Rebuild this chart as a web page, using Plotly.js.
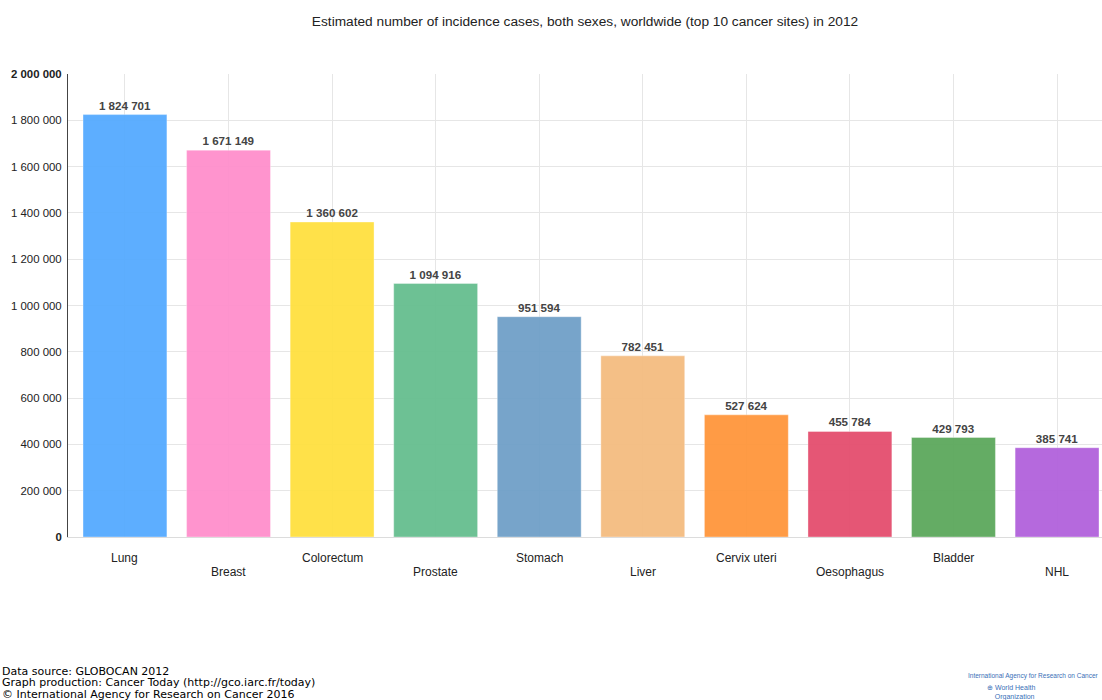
<!DOCTYPE html>
<html>
<head>
<meta charset="utf-8">
<script src="https://cdn.plot.ly/plotly-3.0.1.min.js"></script>
<style>html,body{margin:0;padding:0;background:#fff;}#chart{width:1102px;height:700px;}</style>
</head>
<body>
<div id="chart"></div>
<script>
const categories = ["Lung","Breast","Colorectum","Prostate","Stomach","Liver","Cervix uteri","Oesophagus","Bladder","NHL"];
const cases = [1824701,1671149,1360602,1094916,951594,782451,527624,455784,429793,385741];
const barColors = ["#55aaff","#ff8fcc","#ffe040","#66be8f","#70a0c8","#f4bc80","#ff963c","#e44e6e","#5ca85c","#b262dc"];
const yTickVals = [0,200000,400000,600000,800000,1000000,1200000,1400000,1600000,1800000,2000000];
const yTickText = ["<b>0</b>","200 000","400 000","600 000","800 000","1 000 000","1 200 000","1 400 000","1 600 000","1 800 000","<b>2 000 000</b>"];
const footerLines = ["Data source: GLOBOCAN 2012","Graph production: Cancer Today (http://gco.iarc.fr/today)","© International Agency for Research on Cancer 2016"];

function fmt(v){return String(v).replace(/\B(?=(\d{3})+(?!\d))/g," ");}

const trace = {
  type: "bar",
  x: categories,
  y: cases,
  marker: {color: barColors, opacity: 0.95, line: {color: "rgba(255,255,255,0.35)", width: 1}},
  width: 0.81,
  text: cases.map(v => "<b>" + fmt(v) + "</b>"),
  textposition: "outside",
  textfont: {family: "Liberation Sans, Arial, sans-serif", size: 11.6, color: "#444"},
  cliponaxis: false,
  hoverinfo: "x+y"
};

const annotations = [];
categories.forEach((c,i) => annotations.push({
  text: c, xref: "x", yref: "paper", x: c, y: 0,
  xanchor: "center", yanchor: "middle", showarrow: false,
  yshift: i % 2 === 0 ? -(558 - 537) : -(572 - 537),
  font: {family: "Liberation Sans, Arial, sans-serif", size: 12, color: "#222"}
}));
footerLines.forEach((t,i) => annotations.push({
  text: t, xref: "paper", yref: "paper", x: 0, y: 0,
  xanchor: "left", yanchor: "middle", showarrow: false,
  xshift: -68, yshift: -(671 - 537) - i * 11.5,
  font: {family: "DejaVu Sans, sans-serif", size: 11, color: "#000"}
}));
annotations.push({
  text: "International Agency for Research on Cancer", xref: "paper", yref: "paper",
  x: 1, y: 0, xanchor: "right", yanchor: "middle", showarrow: false,
  xshift: -1, yshift: -(676 - 537),
  font: {family: "Liberation Sans, sans-serif", size: 6.5, color: "#3a6fb7"}
});
annotations.push({
  text: "⊕ World Health<br>    Organization", xref: "paper", yref: "paper",
  x: 0, y: 0, xanchor: "left", yanchor: "middle", showarrow: false, align: "left",
  xshift: 985 - 68, yshift: -(692 - 537),
  font: {family: "Liberation Sans, sans-serif", size: 7, color: "#3a6fb7"}
});

const layout = {
  width: 1102, height: 700,
  margin: {l: 68, r: 0, t: 74, b: 163, pad: 0},
  paper_bgcolor: "#fff", plot_bgcolor: "#fff",
  font: {family: "Liberation Sans, Arial, sans-serif", size: 12, color: "#333"},
  title: {text: "Estimated number of incidence cases, both sexes, worldwide (top 10 cancer sites) in 2012",
          x: 0.5, xref: "paper", y: 1 - 21/700, yanchor: "middle",
          font: {family: "Liberation Sans, Arial, sans-serif", size: 13.7, color: "#222"}},
  showlegend: false,
  xaxis: {
    type: "category", range: [-0.55, 9.434],
    showticklabels: false,
    showgrid: true, gridcolor: "#e6e6e6", gridwidth: 1,
    showline: true, linecolor: "#dcdcdc", linewidth: 1,
    ticks: "", zeroline: false, fixedrange: true
  },
  yaxis: {
    range: [0, 2000000],
    tickvals: yTickVals, ticktext: yTickText,
    showgrid: true, gridcolor: "#e6e6e6", gridwidth: 1,
    showline: true, linecolor: "#444", linewidth: 1,
    zeroline: false, ticks: "", ticklabelstandoff: 3,
    tickfont: {size: 11.4, color: "#222"}, fixedrange: true
  },
  annotations: annotations
};

Plotly.newPlot("chart", [trace], layout, {displayModeBar: false, staticPlot: true});
</script>
</body>
</html>
